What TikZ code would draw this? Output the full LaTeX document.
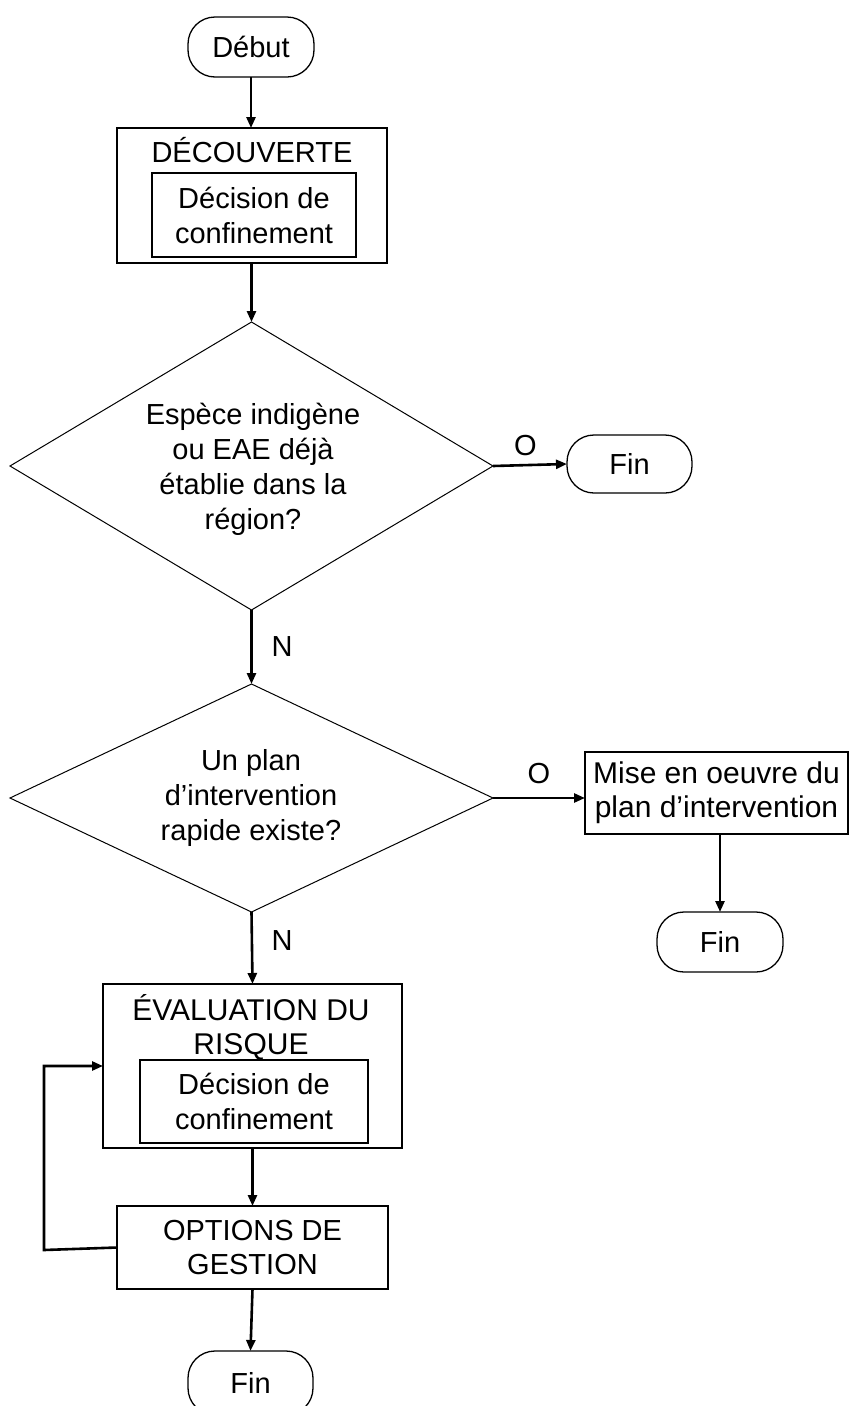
\documentclass[tikz,border=0pt]{standalone}
\usepackage{fontspec}
\setmainfont{Liberation Sans}
\usetikzlibrary{arrows.meta,shapes.geometric}
\begin{document}
\begin{tikzpicture}[x=1pt,y=-1pt,
  every node/.style={font=\fontsize{29}{35}\selectfont, inner sep=0pt, outer sep=0pt},
  term/.style={draw, line width=1.3pt, rounded corners=27pt, minimum width=126pt,
               minimum height=60pt, text height=20pt, text depth=0pt},
  frame/.style={draw, line width=1.2pt, align=center},
  heavyframe/.style={draw, line width=2pt, align=center},
  decision/.style={draw, line width=1pt, diamond},
  head/.style={align=center, anchor=base},
  lbl/.style={},
  flow/.style={line width=2.6pt, -{Triangle[length=11pt,width=9pt]}}
]
\useasboundingbox (0,0) rectangle (849,1406);
\clip (0,0) rectangle (849,1406);

% start
\node[term] (debut) at (251,47) {Début};

% discovery stage with its nested decision box
\node[heavyframe, minimum width=270pt, minimum height=135pt] (dec) at (252,195.5) {};
\node[head] (dectitle) at (252,162) {DÉCOUVERTE};
\node[heavyframe, minimum width=204pt, minimum height=84pt] (decin) at (254,215)
  {Décision de\\confinement};

% first test (text baseline given for its last line)
\node[decision, aspect=1.677, minimum width=483pt, minimum height=288pt] (d1) at (251.5,466) {};
\node[head] (d1text) at (253,529) {Espèce indigène\\ou EAE déjà\\établie dans la\\région?};
\node[term, minimum width=125pt, minimum height=58pt] (fin1) at (629.5,464) {Fin};

% second test
\node[decision, aspect=2.12, minimum width=483pt, minimum height=228pt] (d2) at (251.5,798) {};
\node[head] (d2text) at (251,840) {Un plan\\d’intervention\\rapide existe?};
\node[frame, minimum width=263pt, minimum height=82pt, font=\fontsize{30}{34}\selectfont]
  (mise) at (716.5,793) {Mise en oeuvre du\\plan d’intervention};
\node[term] (fin2) at (720,942) {Fin};

% risk assessment stage
\node[frame, minimum width=299pt, minimum height=164pt] (eval) at (252.5,1066) {};
\node[head, font=\fontsize{30}{34}\selectfont] (evaltitle) at (251,1054) {ÉVALUATION DU\\RISQUE};
\node[heavyframe, minimum width=228pt, minimum height=83pt] (evalin) at (254,1101.5)
  {Décision de\\confinement};

% management options
\node[frame, minimum width=271pt, minimum height=83pt, font=\fontsize{29}{34}\selectfont]
  (opt) at (252.5,1247.5) {OPTIONS DE\\GESTION};
\node[term, minimum width=125pt, minimum height=64pt] (fin3) at (250.5,1383) {Fin};

% connectors
\draw[flow] (debut.south) -- (debut.south |- dec.north);
\draw[flow] (dec.south -| d1.north) -- (d1.north);
\draw[flow] (d1.east) -- (fin1.west);
\node[lbl] (o1) at (525.5,446) {O};
\draw[flow] (d1.south) -- (d2.north);
\node[lbl] (n1) at (282,647) {N};
\draw[flow] (d2.east) -- (mise.west |- d2.east);
\node[lbl] (o2) at (539,774) {O};
\draw[flow] (fin2.north |- mise.south) -- (fin2.north);
\draw[flow] (d2.south) -- (eval.north);
\node[lbl] (n2) at (282,941) {N};
\draw[flow] (eval.south) -- (opt.north);
\coordinate (loop) at (44,1250);
\draw[flow] (opt.west) -- (loop) |- (eval.west);
\draw[flow] (opt.south) -- (fin3.north);
\end{tikzpicture}
\end{document}
